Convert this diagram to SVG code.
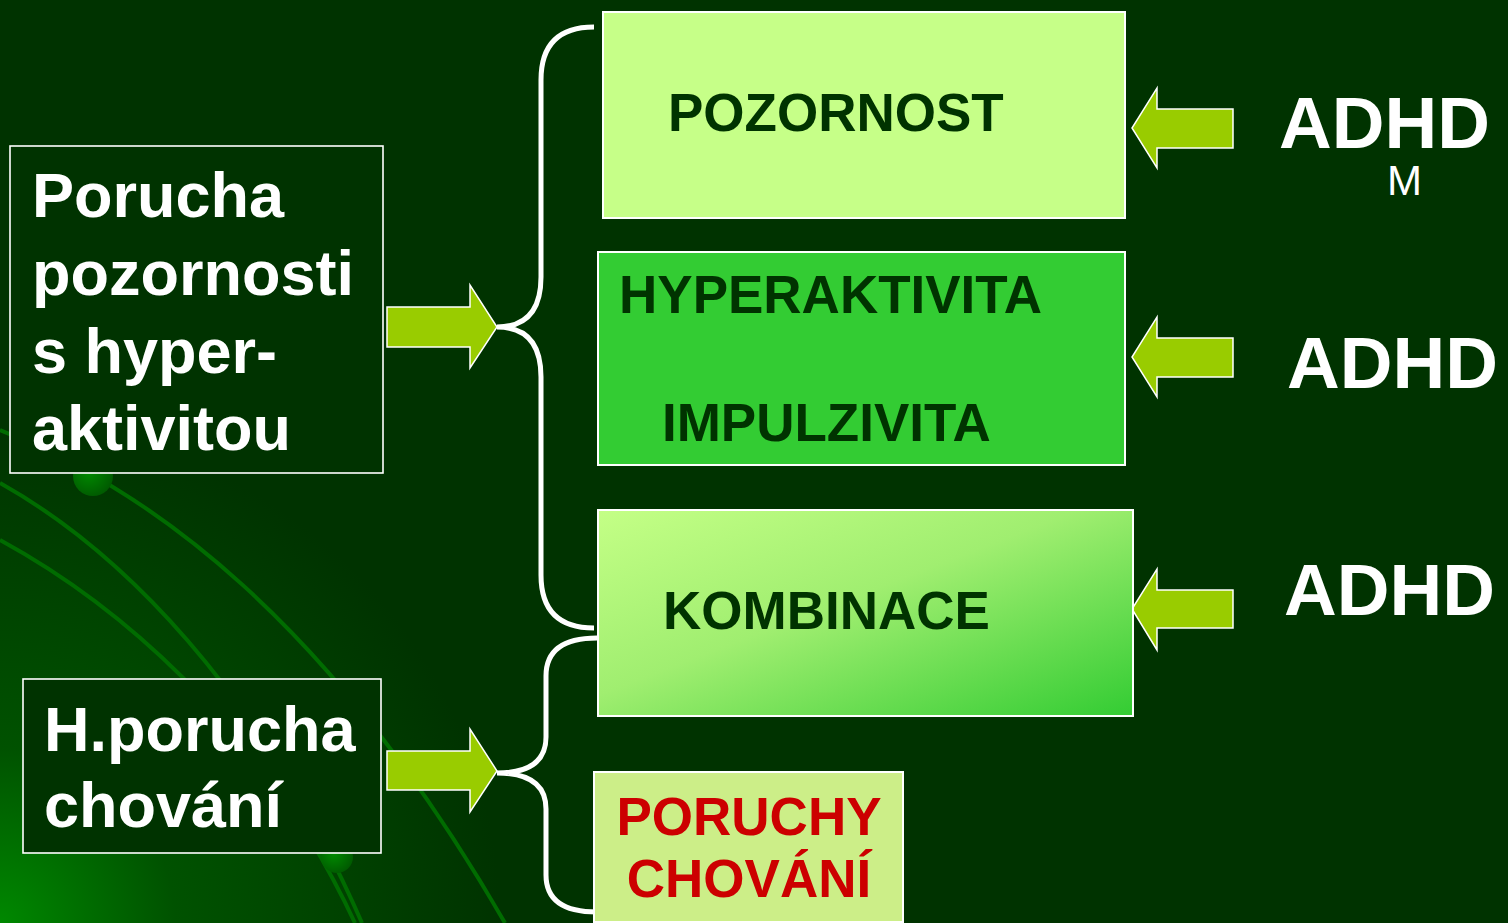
<svg xmlns="http://www.w3.org/2000/svg" width="1508" height="923" viewBox="0 0 1508 923">
  <defs>
    <radialGradient id="bgGlow" cx="0" cy="923" r="500" gradientUnits="userSpaceOnUse">
      <stop offset="0" stop-color="#008800"/>
      <stop offset="0.35" stop-color="#005200"/>
      <stop offset="1" stop-color="#003300"/>
    </radialGradient>
    <radialGradient id="dot" cx="0.4" cy="0.4" r="0.7">
      <stop offset="0" stop-color="#008a00"/>
      <stop offset="1" stop-color="#005500"/>
    </radialGradient>
    <linearGradient id="kombi" x1="0" y1="0" x2="1" y2="1">
      <stop offset="0" stop-color="#c4ff86"/>
      <stop offset="0.45" stop-color="#a0ee70"/>
      <stop offset="1" stop-color="#33cc33"/>
    </linearGradient>
    <style>
      .deco { fill: none; stroke: #006c00; stroke-width: 4; }
      .lbox { fill: #003300; stroke: #ffffff; stroke-width: 1.6; }
      .rbox { stroke: #ffffff; stroke-width: 2; }
      .arrow { fill: #99cc00; stroke: #ffffff; stroke-width: 1.5; stroke-linejoin: miter; }
      .brace { fill: none; stroke: #ffffff; stroke-width: 5; }
      .wt { font-family: "Liberation Sans", Arial, sans-serif; font-weight: bold; fill: #ffffff; }
      .dk { font-family: "Liberation Sans", Arial, sans-serif; font-weight: bold; fill: #003300; font-size: 53px; }
      .rd { font-family: "Liberation Sans", Arial, sans-serif; font-weight: bold; fill: #cc0000; font-size: 53px; }
    </style>
  </defs>

  <!-- background -->
  <rect x="0" y="0" width="1508" height="923" fill="#003300"/>
  <rect x="0" y="0" width="1508" height="923" fill="url(#bgGlow)"/>
  <g id="decoration">
    <path class="deco" d="M0 430 C 150 490 330 620 505 923"/>
    <path class="deco" d="M0 483 C 120 550 260 690 362 923"/>
    <path class="deco" d="M0 540 C 110 600 260 720 355 923"/>
    <circle cx="93" cy="476" r="20" fill="url(#dot)"/>
    <circle cx="337" cy="857" r="16" fill="url(#dot)"/>
  </g>

  <!-- connectors -->
  <g id="connectors">
    <path class="brace" d="M594 27 Q 541 27 541 80 L 541 277 Q 541 327 497 327 Q 541 327 541 377 L 541 575 Q 541 628 594 628"/>
    <path class="brace" d="M597 638 Q 546 638 546 676 L 546 737 Q 546 773 497 773 Q 546 773 546 809 L 546 875 Q 546 912 597 912"/>
    <polygon class="arrow" points="387,307 470,307 470,285 497,327 470,368 470,347 387,347"/>
    <polygon class="arrow" points="387,751 470,751 470,729 497,771 470,812 470,790 387,790"/>
    <polygon class="arrow" points="1233,109 1157,109 1157,88 1132,128 1157,168 1157,148 1233,148"/>
    <polygon class="arrow" points="1233,338 1157,338 1157,317 1132,357 1157,397 1157,377 1233,377"/>
    <polygon class="arrow" points="1233,590 1157,590 1157,569 1132,609 1157,650 1157,628 1233,628"/>
  </g>

  <!-- left nodes -->
  <g id="node-porucha-pozornosti">
    <rect class="lbox" x="10" y="146" width="373" height="327"/>
    <text class="wt" font-size="63" x="32" y="217">Porucha</text>
    <text class="wt" font-size="63" x="32" y="295">pozornosti</text>
    <text class="wt" font-size="63" x="32" y="373">s hyper-</text>
    <text class="wt" font-size="63" x="32" y="450">aktivitou</text>
  </g>
  <g id="node-h-porucha">
    <rect class="lbox" x="23" y="679" width="358" height="174"/>
    <text class="wt" font-size="63" x="44" y="751">H.porucha</text>
    <text class="wt" font-size="63" x="44" y="827">chování</text>
  </g>

  <!-- right nodes -->
  <g id="node-pozornost">
    <rect class="rbox" x="603" y="12" width="522" height="206" fill="#c6ff88"/>
    <text class="dk" x="668" y="131">POZORNOST</text>
  </g>
  <g id="node-hyperaktivita">
    <rect class="rbox" x="598" y="252" width="527" height="213" fill="#33cc33"/>
    <text class="dk" x="619" y="313">HYPERAKTIVITA</text>
    <text class="dk" x="662" y="441">IMPULZIVITA</text>
  </g>
  <g id="node-kombinace">
    <rect class="rbox" x="598" y="510" width="535" height="206" fill="url(#kombi)"/>
    <text class="dk" x="663" y="629">KOMBINACE</text>
  </g>
  <g id="node-poruchy-chovani">
    <rect class="rbox" x="594" y="772" width="309" height="150" fill="#ccee88"/>
    <text class="rd" x="749" y="835" text-anchor="middle">PORUCHY</text>
    <text class="rd" x="749" y="897" text-anchor="middle">CHOVÁNÍ</text>
  </g>

  <!-- ADHD labels -->
  <g id="node-adhd-m">
    <text class="wt" font-size="73" x="1279" y="148">ADHD</text>
    <text font-family="Liberation Sans, Arial, sans-serif" font-size="42" fill="#ffffff" x="1387" y="195">M</text>
  </g>
  <g id="node-adhd-h">
    <text class="wt" font-size="73" x="1287" y="388">ADHD</text>
  </g>
  <g id="node-adhd-c">
    <text class="wt" font-size="73" x="1284" y="615">ADHD</text>
  </g>
</svg>
